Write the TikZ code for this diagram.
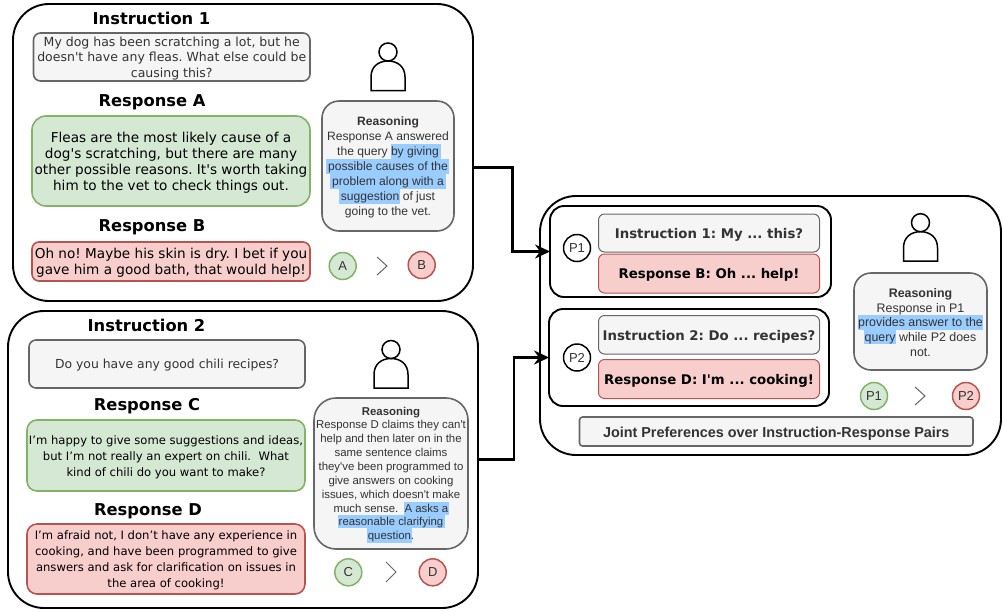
\documentclass[tikz,border=0pt]{standalone}
\usepackage{fontspec}
\setmainfont{DejaVu Sans}[Ligatures=TeXOff]
\newfontfamily\arialf{Liberation Sans}[Ligatures=TeXOff]
\usetikzlibrary{arrows.meta}
\definecolor{gfill}{HTML}{F5F5F5}
\definecolor{gline}{HTML}{666666}
\definecolor{gtext}{HTML}{333333}
\definecolor{okfill}{HTML}{D5E8D4}
\definecolor{okline}{HTML}{82B366}
\definecolor{badfill}{HTML}{F8CECC}
\definecolor{badline}{HTML}{B85450}
\definecolor{hilite}{HTML}{99CCFF}
\newcommand{\fs}[2]{\fontsize{#1}{#2}\selectfont}
\frenchspacing
\tikzset{
  base/.style={rectangle,inner sep=0pt,outer sep=0pt,align=center,line width=1.6pt},
  outerbox/.style={base,draw=black,line width=1.9pt},
  grouped/.style={base,draw=black,line width=1.9pt},
  graybox/.style={base,draw=gline,fill=gfill,text=gtext},
  okbox/.style={base,draw=okline,fill=okfill,text=black},
  badbox/.style={base,draw=badline,fill=badfill,text=black},
  title/.style={inner sep=0pt,outer sep=0pt,font=\bfseries\fs{16.3}{18}},
  pick/.style={circle,inner sep=0pt,outer sep=0pt,minimum size=27pt,line width=1.5pt,font=\arialf\fs{13}{14}},
  pickok/.style={pick,draw=okline,fill=okfill,text=gtext},
  pickbad/.style={pick,draw=badline,fill=badfill,text=gtext},
  pair/.style={pick,draw=black,fill=white,text=gtext},
  chev/.style={draw=gline,line width=1pt},
  conn/.style={draw=black,line width=2.5pt,-{Stealth[length=15pt,width=14pt,inset=5pt]}},
  figure/.style={draw=black,line width=1.5pt,fill=white},
  reasontext/.style={inner sep=0pt,outer sep=0pt,align=center,text=gtext},
}
% \bx{name}{style}{x1}{y1}{x2}{y2}{radius}{text}
\newcommand{\bx}[8]{%
  \pgfmathsetmacro{\cxx}{(#3+#5)/2}\pgfmathsetmacro{\cyy}{(#4+#6)/2}%
  \pgfmathsetmacro{\wdd}{#5-#3}\pgfmathsetmacro{\htt}{#6-#4}%
  \node[#2,rounded corners=#7pt,minimum width=\wdd pt,minimum height=\htt pt] (#1) at (\cxx,\cyy) {\rule{0pt}{1em}#8};}
\newcommand{\hl}[4]{\fill[hilite] (#1,#2) rectangle (#3,#4);}
\newcommand{\person}[2]{%
  \begin{scope}[shift={(#1,#2)}]
    \draw[figure] (-17,38.5) -- (-17,25) .. controls (-17,15) and (-10,9) .. (0,9) .. controls (10,9) and (17,15) .. (17,25) -- (17,38.5) -- cycle;
    \draw[figure] (0,0) circle (9);
  \end{scope}}
\begin{document}
\begin{tikzpicture}[x=1pt,y=-1pt]
\useasboundingbox (0,0) rectangle (1003,611);

% ---------- group 1
\bx{groupone}{outerbox}{13}{4}{473}{301}{36}{}
\node[title] (tone) at (151.5,18.5) {Instruction 1};
\bx{ione}{graybox,font=\fs{12.5}{15.2}}{33.5}{33}{310}{81}{7}{My dog has been scratching a lot, but he\\doesn't have any fleas. What else could be\\causing this?}
\node[title] (tra) at (152,102) {Response A};
\bx{ra}{okbox,font=\fs{13.6}{16}}{32}{116}{310}{206}{14}{Fleas are the most likely cause of a\\dog's scratching, but there are many\\other possible reasons. It's worth taking\\him to the vet to check things out.}
\node[title] (trb) at (152,227) {Response B};
\bx{rb}{badbox,font=\fs{13.6}{16}}{32}{242}{310}{281}{7}{Oh no! Maybe his skin is dry. I bet if you\\gave him a good bath, that would help!}
\person{388}{52}
\bx{rone}{graybox}{322}{101}{454}{231}{17}{}
\hl{391}{144}{441}{159}\hl{326}{159}{449}{174}\hl{330}{174}{446}{189}\hl{339}{189}{400}{204}
\node[reasontext,font=\arialf\fs{12.1}{14.9}] (rtone) at (388,167.3) {{\bfseries Reasoning}\\Response A answered\\the query by giving\\possible causes of the\\problem along with a\\suggestion of just\\going to the vet.};
\node[pickok] (a) at (342.7,266) {A};
\node[pickbad] (b) at (421.7,265) {B};
\draw[chev] (377,257) -- (387,266) -- (377,275);

% ---------- group 2
\bx{grouptwo}{outerbox}{8}{311}{478}{608}{36}{}
\node[title] (ttwo) at (146.5,325.5) {Instruction 2};
\bx{itwo}{graybox,font=\fs{12.4}{15}}{29}{340}{305}{388}{7}{Do you have any good chili recipes?}
\node[title] (trc) at (147,406) {Response C};
\bx{rc}{okbox,font=\fs{11.6}{16}}{27}{420}{305}{491}{10}{I’m happy to give some suggestions and ideas,\\but I’m not really an expert on chili.\ \ What\\kind of chili do you want to make?}
\node[title] (trd) at (148,511) {Response D};
\bx{rd}{badbox,font=\fs{11.6}{16}}{27}{524}{305}{594}{10}{I’m afraid not, I don’t have any experience in\\cooking, and have been programmed to give\\answers and ask for clarification on issues in\\the area of cooking!}
\person{391}{349.5}
\bx{rtwo}{graybox}{314}{398}{468}{549}{22}{}
\hl{404}{502}{449}{515}\hl{338}{515}{445}{528}\hl{367}{528}{412}{543}
\node[reasontext,font=\arialf\fs{11.4}{13.85}] (rttwo) at (391,474.5) {{\bfseries Reasoning}\\Response D claims they can't\\help and then later on in the\\same sentence claims\\they've been programmed to\\give answers on cooking\\issues, which doesn't make\\much sense.\ \ A asks a\\reasonable clarifying\\question.};
\node[pickok] (c) at (348.3,572.3) {C};
\node[pickbad] (d) at (432.7,572.3) {D};
\draw[chev] (386,562) -- (396,572) -- (386,582);

% ---------- joint
\bx{joint}{outerbox}{540}{196}{1001}{455}{36}{}
\bx{pone}{grouped}{550}{206}{831}{297}{14}{}
\bx{ptwo}{grouped}{549}{309}{829}{406}{14}{}
\node[pair] (pa) at (577,248) {P1};
\node[pair] (pb) at (577,357.5) {P2};
\bx{ji}{graybox,line width=1pt,font=\bfseries\fs{13.3}{15}}{598.5}{214}{819.5}{252}{6}{Instruction 1: My ... this?}
\bx{jb}{badbox,line width=1pt,font=\bfseries\fs{13.3}{15}}{598.5}{254}{819.5}{293}{6}{Response B: Oh ... help!}
\bx{jii}{graybox,line width=1pt,font=\bfseries\fs{13.3}{15}}{598.5}{315.5}{819.5}{354}{6}{Instruction 2: Do ... recipes?}
\bx{jd}{badbox,line width=1pt,font=\bfseries\fs{13.3}{15}}{598.5}{359.5}{819.5}{398.5}{6}{Response D: I'm ... cooking!}
\person{920.5}{222.7}
\bx{rthree}{graybox}{854}{273}{987}{370}{17}{}
\hl{858}{315}{983}{330}\hl{864}{330}{896}{344}
\node[reasontext,font=\arialf\fs{12.4}{14.7}] (rtthree) at (920.5,322.5) {{\bfseries Reasoning}\\Response in P1\\provides answer to the\\query while P2 does\\not.};
\node[pickok] (pg) at (874,396) {P1};
\node[pickbad] (pr) at (966,396) {P2};
\draw[chev] (915,387) -- (925,396) -- (915,405);
\bx{jl}{graybox,font=\arialf\bfseries\fs{14.4}{16}}{579.5}{417}{973}{446}{3}{Joint Preferences over Instruction-Response Pairs}

% ---------- connectors
\draw[conn] ([yshift=-15pt]groupone.east) -- ++(39.5pt,0pt) |- (pone.west);
\draw[conn] (grouptwo.east) -- ++(36pt,0pt) |- (ptwo.west);
\end{tikzpicture}
\end{document}
